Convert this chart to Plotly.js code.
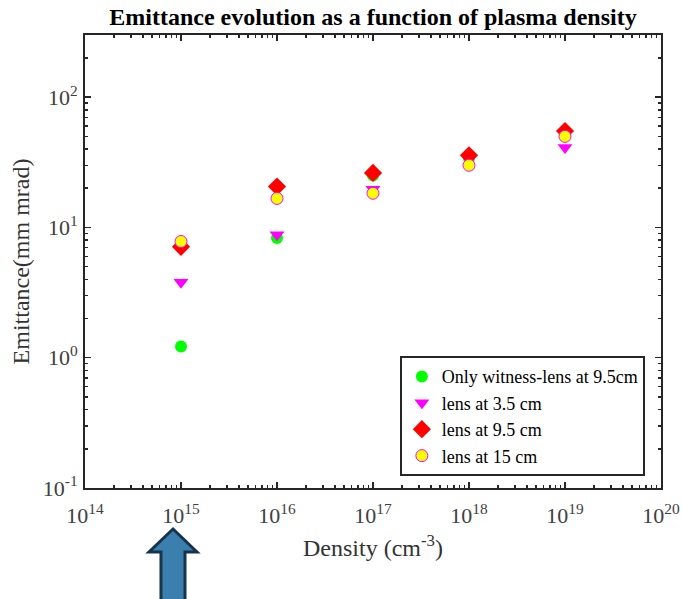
<!DOCTYPE html>
<html>
<head>
<meta charset="utf-8">
<script src="https://cdn.plot.ly/plotly-3.0.1.min.js"></script>
<style>html,body{margin:0;padding:0;background:#fff;}#chart{width:682px;height:599px;}</style>
</head>
<body>
<div id="chart"></div>
<script>
// Data
const density = [1e15, 1e16, 1e17, 1e18, 1e19];
const onlyWitness = [1.22, 8.3, 25, 34, 53.5];
const lens35 = [3.8, 8.8, 19.6, 33.3, 41];
const lens95 = [7.1, 20.6, 26.2, 35.8, 55];
const lens15 = [7.8, 16.7, 18.3, 30, 50];
const seriesNames = ['Only witness-lens at 9.5cm', 'lens at 3.5 cm', 'lens at 9.5 cm', 'lens at 15 cm'];
const xTickVals = [1e14, 1e15, 1e16, 1e17, 1e18, 1e19, 1e20];
const xTickText = ['10<sup>14</sup>', '10<sup>15</sup>', '10<sup>16</sup>', '10<sup>17</sup>', '10<sup>18</sup>', '10<sup>19</sup>', '10<sup>20</sup>'];
const yTickVals = [0.1, 1, 10, 100];
const yTickText = ['10<sup>-1</sup>', '10<sup>0</sup>', '10<sup>1</sup>', '10<sup>2</sup>'];

const serif = '"Liberation Serif", "Times New Roman", serif';
const axisColor = '#262626';

const traces = [
  {x: density, y: onlyWitness, name: seriesNames[0], mode: 'markers', type: 'scatter',
   marker: {symbol: 'circle', size: 12, color: '#00ff00'}},
  {x: density, y: lens35, name: seriesNames[1], mode: 'markers', type: 'scatter',
   marker: {symbol: 'triangle-down', size: 13, color: '#ff00ff'}},
  {x: density, y: lens95, name: seriesNames[2], mode: 'markers', type: 'scatter',
   marker: {symbol: 'diamond', size: 14, color: '#ff0000'}},
  {x: density, y: lens15, name: seriesNames[3], mode: 'markers', type: 'scatter',
   marker: {symbol: 'circle', size: 12, color: '#ffff00', line: {color: '#ff00ff', width: 1}}}
];

function axisCommon() {
  return {
    type: 'log',
    showline: true, linecolor: axisColor, linewidth: 2, mirror: 'ticks',
    ticks: 'inside', ticklen: 6, tickwidth: 1.5, tickcolor: axisColor,
    showgrid: false, zeroline: false,
    tickmode: 'array',
    tickfont: {family: serif, size: 22, color: '#404040'},
    minor: {ticks: 'inside', ticklen: 3, tickwidth: 1.5, tickcolor: axisColor, dtick: 'D1', showgrid: false}
  };
}

const xaxis = Object.assign(axisCommon(), {
  range: [14, 20],
  tickvals: xTickVals, ticktext: xTickText,
  ticklabelstandoff: 7,
  title: {text: 'Density (cm<sup>-3</sup>)', font: {family: serif, size: 24, color: '#333333'}, standoff: 12}
});
const yaxis = Object.assign(axisCommon(), {
  range: [-1, Math.log10(300)],
  tickvals: yTickVals, ticktext: yTickText,
  ticklabelstandoff: 1,
  title: {text: 'Emittance(mm mrad)', font: {family: serif, size: 24, color: '#333333'}, standoff: 6}
});

// block arrow below the 10^15 tick (decoration, paper coordinates)
const arrowPath = 'M 0.1528 -0.0905 L 0.1944 -0.1413 L 0.1736 -0.1413 L 0.1736 -0.26 L 0.1319 -0.26 L 0.1319 -0.1413 L 0.1111 -0.1413 Z';

const layout = {
  width: 682, height: 599,
  margin: {l: 85, r: 21, t: 35, b: 111},
  paper_bgcolor: '#ffffff', plot_bgcolor: '#ffffff',
  title: {text: '<b>Emittance evolution as a function of plasma density</b>',
          font: {family: serif, size: 24, color: '#000000'},
          x: 0.5, xref: 'paper', xanchor: 'center', yref: 'container', y: 0.972, yanchor: 'middle'},
  xaxis: xaxis, yaxis: yaxis,
  showlegend: true,
  legend: {x: 0.972, xanchor: 'right', y: 0.026, yanchor: 'bottom',
           bgcolor: '#ffffff', bordercolor: axisColor, borderwidth: 2,
           font: {family: serif, size: 18, color: '#000000'}, tracegroupgap: 0},
  shapes: [{type: 'path', xref: 'paper', yref: 'paper', path: arrowPath,
            fillcolor: '#3b7fae', line: {color: '#17344d', width: 3}, layer: 'above'}]
};

Plotly.newPlot('chart', traces, layout, {displayModeBar: false, staticPlot: true});
</script>
</body>
</html>
